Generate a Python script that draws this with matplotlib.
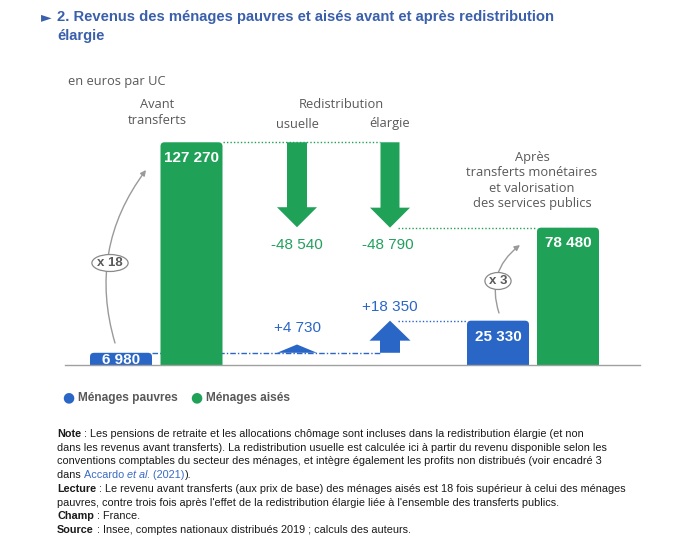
import matplotlib
matplotlib.use("Agg")
import matplotlib.pyplot as plt
from matplotlib.patches import FancyBboxPatch, FancyArrow, Rectangle

W, H = 693, 539

# données (euros par UC)
etapes = ["Avant transferts", "Redistribution usuelle", "Redistribution élargie", "Après transferts"]
menages_pauvres = [6980, 4730, 18350, 25330]
menages_aises = [127270, -48540, -48790, 78480]
ratios = ["x 18", "x 3"]

BLUE = "#2a66c6"
GREEN = "#1fa257"
GREEN_TXT = "#22a05e"
GRAY = "#595959"
TITLE = "#3a5fab"

NARROW = ["DejaVu Sans Condensed", "Liberation Sans", "DejaVu Sans"]
OPEN = ["Open Sans", "DejaVu Sans"]

k = 0.00175   # pixels par euro
base = 365    # ligne de base (pixel)

fig = plt.figure(figsize=(W / 100, H / 100), dpi=100)
ax = fig.add_axes([0, 0, 1, 1])
ax.set_xlim(0, W)
ax.set_ylim(-(H - base) / k, base / k)
ax.axis("off")
renderer = fig.canvas.get_renderer()


def fx(x):
    return x / W


def fy(y):
    return 1 - y / H


def vy(y):
    return (base - y) / k


def fmt(v, sign=False):
    s = f"{abs(v):,}".replace(",", " ")
    if sign:
        s = ("+" if v > 0 else "-") + s
    return s


def fit_size(s, target, **kw):
    # taille de police donnant la largeur voulue (en pixels)
    t = fig.text(0, 0, s, fontsize=10, **kw)
    w = t.get_window_extent(renderer).width
    t.remove()
    return 10 * target / w


# barres
bar_w = 62
x_avant = [121, 191.5]
x_apres = [498, 568]
x_usuelle, x_elargie = 297, 390

clip = Rectangle((0, 0), W, 1e7, transform=ax.transData)
bars = [(x_avant[0], menages_pauvres[0], BLUE), (x_avant[1], menages_aises[0], GREEN),
        (x_apres[0], menages_pauvres[3], BLUE), (x_apres[1], menages_aises[3], GREEN)]
for xc, val, col in bars:
    p = FancyBboxPatch((xc - bar_w / 2, -10 / k), bar_w, val + 10 / k,
                       boxstyle="round,pad=0,rounding_size=4", mutation_aspect=1 / k,
                       fc=col, ec="none", zorder=3)
    ax.add_patch(p)
    p.set_clip_path(clip)

# flèches de redistribution
for xc, dv, wd in [(x_usuelle, menages_aises[1], 20), (x_elargie, menages_aises[2], 19)]:
    ax.add_patch(FancyArrow(xc, menages_aises[0], 0, dv, width=wd, head_width=40,
                            head_length=20 / k, length_includes_head=True,
                            fc=GREEN, ec="none", zorder=3))
ax.add_patch(FancyArrow(x_usuelle, menages_pauvres[0], 0, menages_pauvres[1], width=20,
                        head_width=40, head_length=menages_pauvres[1],
                        length_includes_head=True, fc=BLUE, ec="none", zorder=3))
ax.add_patch(FancyArrow(x_elargie, menages_pauvres[0], 0, menages_pauvres[2], width=20,
                        head_width=41, head_length=20 / k,
                        length_includes_head=True, fc=BLUE, ec="none", zorder=3))

# lignes de rappel
dot = (0, (1, 1.5))
ax.plot([223, 380], [menages_aises[0]] * 2, ls=dot, color=GREEN, lw=1, zorder=1)
ax.plot([398, 537], [menages_aises[0] + menages_aises[2]] * 2, ls=dot, color=GREEN, lw=1, zorder=1)
ax.plot([152, 380], [menages_pauvres[0]] * 2, ls=(0, (4, 1.5, 1, 1.5)), color=BLUE, lw=1, zorder=1)
ax.plot([398, 467], [menages_pauvres[3]] * 2, ls=dot, color=BLUE, lw=1, zorder=1)

ax.plot([65, 640], [0, 0], color="#a0a0a0", lw=1, zorder=4)

# étiquettes de valeurs
vsize = fit_size("127 270", 55, family=NARROW, weight="bold")
val_kw = dict(family=NARROW, fontsize=vsize, ha="center", va="center", zorder=5)
ax.text(x_avant[0], vy(360), fmt(menages_pauvres[0]), color="white", weight="bold", **val_kw)
ax.text(x_avant[1], vy(158), fmt(menages_aises[0]), color="white", weight="bold", **val_kw)
ax.text(x_apres[0], vy(337), fmt(menages_pauvres[3]), color="white", weight="bold", **val_kw)
ax.text(x_apres[1], vy(243), fmt(menages_aises[3]), color="white", weight="bold", **val_kw)
ax.text(x_usuelle, vy(245), fmt(menages_aises[1], True), color=GREEN_TXT, **val_kw)
ax.text(x_elargie - 2, vy(245), fmt(menages_aises[2], True), color=GREEN_TXT, **val_kw)
ax.text(x_usuelle, vy(328), fmt(menages_pauvres[1], True), color=BLUE, **val_kw)
ax.text(x_elargie, vy(307), fmt(menages_pauvres[2], True), color=BLUE, **val_kw)

# rapports
arr = dict(arrowstyle="-|>", color="#9a9a9a", lw=1, mutation_scale=8, shrinkA=0, shrinkB=0)
ax.annotate("", xy=(146, vy(170)), xytext=(115, vy(343)),
            arrowprops=dict(connectionstyle="arc3,rad=-0.25", **arr), zorder=2)
ax.annotate("", xy=(520, vy(245)), xytext=(499, vy(313)),
            arrowprops=dict(connectionstyle="arc3,rad=-0.35", **arr), zorder=2)
rsize = fit_size("x 18", 26, family=NARROW, weight="bold")
lab_kw = dict(family=NARROW, fontsize=rsize, weight="bold", color=GRAY, ha="center",
              va="center", zorder=6,
              bbox=dict(boxstyle="ellipse,pad=0.0", fc="white", ec="#8a8a8a", lw=0.9))
ax.text(110, vy(263), ratios[0], **lab_kw)
ax.text(498, vy(281), ratios[1], **lab_kw)

# en-têtes
hd = dict(family=OPEN, fontsize=9.3, color=GRAY, ha="center", va="center")
fig.text(fx(68), fy(82), "en euros par UC", family=OPEN, fontsize=9.3, color=GRAY, va="center")
fig.text(fx(157), fy(105), "Avant", **hd)
fig.text(fx(157), fy(121), "transferts", **hd)
fig.text(fx(341), fy(105), "Redistribution", **hd)
fig.text(fx(x_usuelle), fy(124), "usuelle", **hd)
fig.text(fx(x_elargie), fy(124), "élargie", **hd)
for i, line in enumerate(["Après", "transferts monétaires", "et valorisation", "des services publics"]):
    fig.text(fx(532), fy(157 + 15.5 * i), line, **hd)

# titre
title1 = "2. Revenus des ménages pauvres et aisés avant et après redistribution"
tsize = fit_size(title1, 500, family=NARROW, weight="bold")
fig.text(fx(41), fy(17), "►", family="DejaVu Sans", fontsize=10, color=TITLE, va="center")
fig.text(fx(57), fy(17), title1, family=NARROW, fontsize=tsize, weight="bold",
         color=TITLE, va="center")
fig.text(fx(57), fy(36), "élargie", family=NARROW, fontsize=tsize, weight="bold",
         color=TITLE, va="center")

# légende
lsize = fit_size("Ménages pauvres", 100, family=NARROW, weight="bold")
fig.text(fx(62), fy(397), "●", family="DejaVu Sans", fontsize=10, color=BLUE, va="center")
fig.text(fx(78), fy(398), "Ménages pauvres", family=NARROW, fontsize=lsize, weight="bold",
         color=GRAY, va="center")
fig.text(fx(190), fy(397), "●", family="DejaVu Sans", fontsize=10, color=GREEN, va="center")
fig.text(fx(206), fy(398), "Ménages aisés", family=NARROW, fontsize=lsize, weight="bold",
         color=GRAY, va="center")

# notes
nsize = fit_size("dans les revenus avant transferts). La redistribution usuelle est calculée "
                 "ici à partir du revenu disponible selon les", 545, family=NARROW)
NOTE_KW = dict(family=NARROW, fontsize=nsize, color="#1a1a1a")


def piece_width(s, style):
    t = fig.text(0, 0, "|" + s + "|", **style)
    t2 = fig.text(0, 0, "||", **style)
    w = t.get_window_extent(renderer).width - t2.get_window_extent(renderer).width
    t.remove()
    t2.remove()
    return w


def rich_line(x, y, parts):
    for s, kw in parts:
        style = dict(NOTE_KW)
        style.update(kw)
        fig.text(fx(x), fy(y), s, va="center", ha="left", **style)
        x += piece_width(s, style)


B = dict(weight="bold")
L = dict(color="#3a6bc4")
lines = [
    [("Note", B), (" : Les pensions de retraite et les allocations chômage sont incluses dans la redistribution élargie (et non", {})],
    [("dans les revenus avant transferts). La redistribution usuelle est calculée ici à partir du revenu disponible selon les", {})],
    [("conventions comptables du secteur des ménages, et intègre également les profits non distribués (voir encadré 3", {})],
    [("dans ", {}), ("Accardo ", L), ("et al.", dict(style="italic", **L)), (" (2021)", L), (").", {})],
    [("Lecture", B), (" : Le revenu avant transferts (aux prix de base) des ménages aisés est 18 fois supérieur à celui des ménages", {})],
    [("pauvres, contre trois fois après l'effet de la redistribution élargie liée à l'ensemble des transferts publics.", {})],
    [("Champ", B), (" : France.", {})],
    [("Source", B), (" : Insee, comptes nationaux distribués 2019 ; calculs des auteurs.", {})],
]
for i, parts in enumerate(lines):
    rich_line(57, 434 + 13.7 * i, parts)

fig.savefig("out.png", dpi=100)
